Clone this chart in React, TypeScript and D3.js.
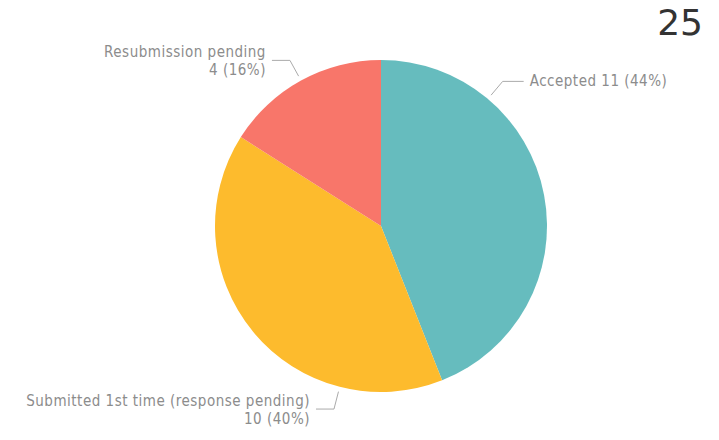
import React from "react";
import * as d3 from "d3";

const categories = ["Accepted", "Submitted 1st time (response pending)", "Resubmission pending"];
const values = [11, 10, 4];
const colors = ["#66BCBE", "#FDBB2D", "#F8766A"];
// where along each slice (0..1) the leader line leaves the pie
const leaderFrac = [0.253, 0.25, 0.5];
// whether the label is a single line
const singleLine = [true, false, false];

const W = 719;
const H = 440;
const cx = 381;
const cy = 226;
const R = 166;
const FONT = "'DejaVu Sans Condensed', 'DejaVu Sans', sans-serif";

export default function App() {
  const total = d3.sum(values);
  const pie = d3.pie<number>().sort(null).value((d) => d);
  const arcs = pie(values);
  const arc = d3.arc<d3.PieArcDatum<number>>().innerRadius(0).outerRadius(R);
  const fmt = d3.format(".0%");

  const textProps = (right: boolean) => ({
    textAnchor: right ? "start" : "end",
    fontFamily: FONT,
    fontSize: 15,
    letterSpacing: 0.5,
    fill: "#8c8c8c",
  });

  return (
    <div style={{ position: "absolute", left: 0, top: 0 }}>
      <svg width={W} height={H} style={{ display: "block", background: "#fff" }}>
        <text
          x={703}
          y={35}
          textAnchor="end"
          fontFamily="'DejaVu Sans', sans-serif"
          fontSize={36}
          fill="#333"
        >
          {total}
        </text>
        <g transform={`translate(${cx},${cy})`}>
          {arcs.map((a, i) => (
            <path key={i} d={arc(a) || ""} fill={colors[i]} />
          ))}
        </g>
        {arcs.map((a, i) => {
          const ang = a.startAngle + (a.endAngle - a.startAngle) * leaderFrac[i];
          const sx = cx + (R + 5) * Math.sin(ang);
          const sy = cy - (R + 5) * Math.cos(ang);
          const kx = cx + (R + 23) * Math.sin(ang);
          const ky = cy - (R + 23) * Math.cos(ang);
          const right = Math.sin(ang) >= 0;
          const ex = kx + (right ? 21 : -18);
          const tx = ex + (right ? 6 : -6);
          const pct = fmt(values[i] / total);
          const l2 = `${values[i]} (${pct})`;
          return (
            <g key={i}>
              <polyline
                points={`${sx},${sy} ${kx},${ky} ${ex},${ky}`}
                fill="none"
                stroke="#aaa"
                strokeWidth={1}
              />
              {singleLine[i] ? (
                <text x={tx} y={ky + 5} {...(textProps(right) as any)}>
                  {`${categories[i]} ${l2}`}
                </text>
              ) : (
                <>
                  <text x={tx} y={ky - 3} {...(textProps(right) as any)}>
                    {categories[i]}
                  </text>
                  <text x={tx} y={ky + 15} {...(textProps(right) as any)}>
                    {l2}
                  </text>
                </>
              )}
            </g>
          );
        })}
      </svg>
    </div>
  );
}
